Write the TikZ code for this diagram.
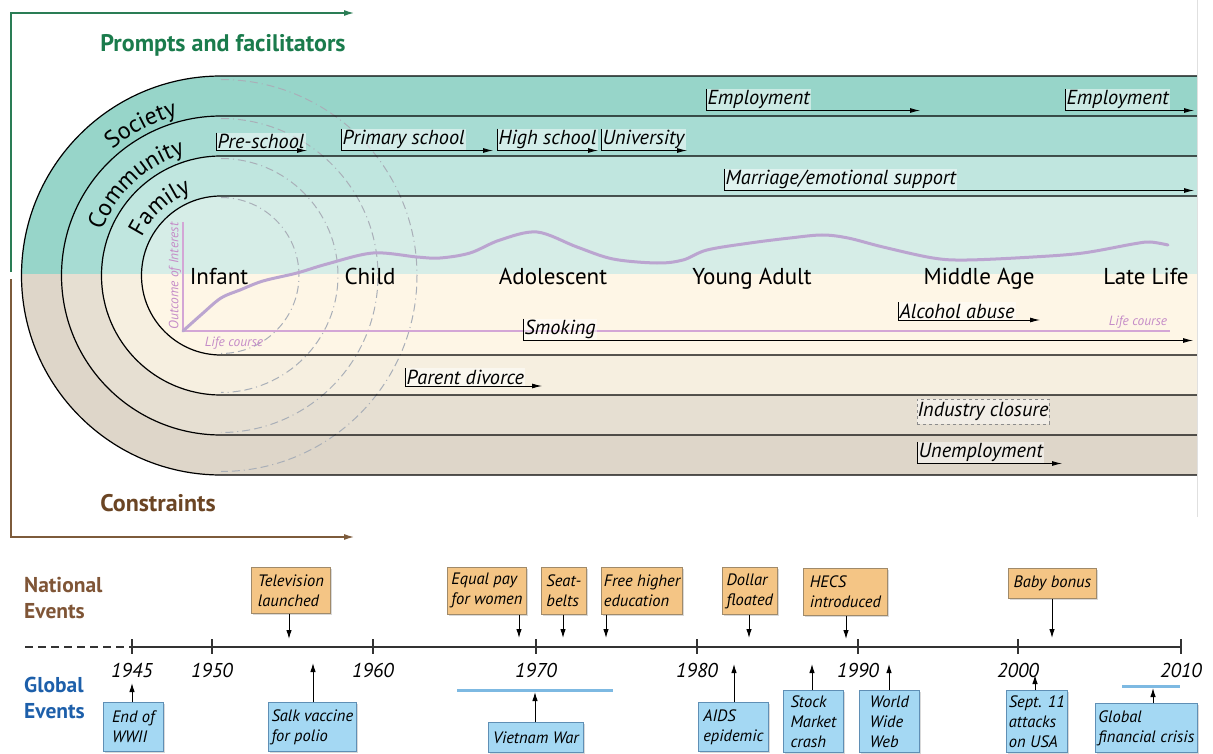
\documentclass[tikz,border=0pt]{standalone}
\usepackage{fontspec}
\setmainfont{PT Sans}
\usetikzlibrary{arrows.meta,decorations.text,shadows}

% band fills
\definecolor{socT}{HTML}{97D5C9}
\definecolor{comT}{HTML}{A7DCD3}
\definecolor{famT}{HTML}{C0E6DF}
\definecolor{innT}{HTML}{D6EDE7}
\definecolor{innB}{HTML}{FEF6E6}
\definecolor{famB}{HTML}{F6EFE0}
\definecolor{comB}{HTML}{E6DFD2}
\definecolor{socB}{HTML}{DED6C9}
% text and axis colours
\definecolor{promptgreen}{HTML}{1A7B4C}
\definecolor{axisgreen}{HTML}{2A7D55}
\definecolor{constbrown}{HTML}{6B4524}
\definecolor{axisbrown}{HTML}{7D5B3B}
\definecolor{natbrown}{HTML}{7F5536}
\definecolor{globblue}{HTML}{1D5FAA}
\definecolor{lcaxis}{HTML}{D3A6D6}
\definecolor{lccurve}{HTML}{BBA5D0}
\definecolor{lctext}{HTML}{C58CC8}
\definecolor{ripple}{HTML}{A9AFB8}
\definecolor{natfill}{HTML}{F4C585}
\definecolor{natedge}{HTML}{A08A6A}
\definecolor{globfill}{HTML}{A4D8F3}
\definecolor{globedge}{HTML}{5F8FB5}
\definecolor{globbar}{HTML}{7DB9E2}

\newcommand\curvefont{\fontsize{24}{28}\selectfont}
% stadium-shaped band outline of half height #1 around the common centre
\newcommand\bandshape[1]{(1197,275.5-#1) -- (221,275.5-#1) arc[start angle=270, end angle=90, radius=#1] -- (1197,275.5+#1)}

\begin{document}
\begin{tikzpicture}[x=1pt,y=-1pt,
  bandline/.style={draw=black, line width=1.2pt},
  lab/.style={font=\fontsize{20.3}{22}\selectfont\itshape, fill=white, fill opacity=0.5, text opacity=1, inner sep=1.4pt, anchor=south west},
  brk/.style={line width=0.9pt, -{Latex[length=10pt,width=5pt]}},
  age/.style={font=\fontsize{23}{26}\selectfont, anchor=base},
  lcsmall/.style={font=\fontsize{13.4}{15}\selectfont\itshape, text=lctext, inner sep=0pt},
  ring/.style={draw=ripple, line width=1pt, dash pattern=on 8pt off 4pt on 1pt off 4pt on 8pt off 4pt},
  evbox/.style={line width=0.8pt, font=\fontsize{16.5}{20}\selectfont\itshape, align=left, anchor=north west, inner xsep=2.5pt, inner ysep=3pt,
                drop shadow={opacity=0.3, shadow xshift=1.6pt, shadow yshift=-1.6pt}},
  nbox/.style={evbox, fill=natfill, draw=natedge},
  gbox/.style={evbox, fill=globfill, draw=globedge},
  tarrow/.style={line width=1pt, -{Latex[length=9pt,width=5.5pt]}},
  year/.style={font=\fontsize{20}{22}\selectfont\itshape},
  sidetitle/.style={font=\fontsize{21.5}{26}\selectfont\bfseries, align=left, anchor=west, inner sep=0pt},
  bigtitle/.style={font=\fontsize{24}{28}\selectfont\bfseries, inner sep=0pt}
]
\clip (0,0) rectangle (1213,754);
\coordinate (ctr) at (221,275.5);

% ---- coloured bands: upper half (facilitators) ----
\begin{scope}
  \clip (0,0) rectangle (1197,274);
  \fill[socT] \bandshape{199.5} -- cycle;
  \fill[comT] \bandshape{159.5} -- cycle;
  \fill[famT] \bandshape{119.5} -- cycle;
  \fill[innT] \bandshape{79.5} -- cycle;
\end{scope}
% ---- lower half (constraints) ----
\begin{scope}
  \clip (0,274) rectangle (1197,754);
  \fill[socB] \bandshape{199.5} -- cycle;
  \fill[comB] \bandshape{159.5} -- cycle;
  \fill[famB] \bandshape{119.5} -- cycle;
  \fill[innB] \bandshape{79.5} -- cycle;
\end{scope}

% ripples spreading from birth
\foreach \r in {78,117,157,196}
  \draw[ring] ([shift={(ctr)}]-90:\r) arc[start angle=-90, end angle=90, radius=\r];

% band outlines
\draw[bandline] \bandshape{199.5};
\draw[bandline] \bandshape{159.5};
\draw[bandline] \bandshape{119.5};
\draw[bandline] \bandshape{79.5};
\draw[black!12, line width=0.8pt] (1197,0) -- (1197,517);

% level names written along the arcs
\path[decorate, decoration={text along path, text align=center, text={|\curvefont|Society}}]
  ([shift={(ctr)}]-160:166) arc[start angle=-160, end angle=-76, radius=166];
\path[decorate, decoration={text along path, text align=center, text={|\curvefont|Community}}]
  ([shift={(ctr)}]-178:127) arc[start angle=-178, end angle=-88, radius=127];
\path[decorate, decoration={text along path, text align=center, text={|\curvefont|Family}}]
  ([shift={(ctr)}]-180:88) arc[start angle=-180, end angle=-84, radius=88];

% side axes
\coordinate (gTop) at (11,13);
\coordinate (gEnd) at (354,13);
\coordinate (gBot) at (11,272);
\coordinate (bTop) at (11,279);
\coordinate (bBot) at (11,537);
\coordinate (bEnd) at (354,537);
\draw[axisgreen, line width=1.2pt, -{Latex[length=10pt,width=6pt]}] (gBot) -- (gTop) -- (gEnd);
\draw[axisbrown, line width=1.2pt, -{Latex[length=10pt,width=6pt]}] (bTop) -- (bBot) -- (bEnd);
\node[bigtitle, text=promptgreen] (prompts) at (223,45) {Prompts and facilitators};
\node[bigtitle, text=constbrown] (constr) at (158,503) {Constraints};

% life-course graph
\coordinate (lcO) at (183,331);
\coordinate (lcY) at (183,222);
\coordinate (lcX) at (1170,331);
\draw[lcaxis, line width=2.6pt] (lcY) -- (lcO) -- (lcX);
\draw[lccurve, line width=3pt, line cap=round] plot[smooth, tension=0.55] coordinates {
  (183,331) (202,314) (221,298) (240,290) (263,281) (297,273) (327,264) (373,253)
  (417,257) (440,258) (470,253) (500,240) (537,232) (577,247) (613,259) (657,263)
  (683,260) (707,250) (750,243) (790,238) (822,235) (848,238) (883,247) (933,258)
  (967,260) (1033,257) (1083,253) (1133,244) (1150,242) (1168,245)};
\node[lcsmall, rotate=90] (outcome) at (175,276) {Outcome of Interest};
\node[lcsmall] (lc1) at (234,343) {Life course};
\node[lcsmall] (lc2) at (1138,322) {Life course};

% life stages
\node[age] (infant) at (219,284) {Infant};
\node[age] (child) at (370,284) {Child};
\node[age] (adol) at (553,284) {Adolescent};
\node[age] (young) at (752,284) {Young Adult};
\node[age] (middle) at (979,284) {Middle Age};
\node[age] (late) at (1146,284) {Late Life};

% transitions within the bands
\node[lab] (emp1) at (706,110.5) {Employment\hspace{3pt}};
\coordinate (emp1e) at (920,110.5);
\draw[brk] (emp1.north west) -- (emp1.south west) -- (emp1e);
\node[lab] (emp2) at (1065,110.5) {Employment\hspace{2pt}};
\coordinate (emp2e) at (1194,110.5);
\draw[brk] (emp2.north west) -- (emp2.south west) -- (emp2e);

\node[lab] (pre) at (216,150.5) {Pre-school};
\coordinate (pree) at (307,150.5);
\draw[brk] (pre.north west) -- (pre.south west) -- (pree);
\node[lab] (prim) at (341,150.5) {Primary school};
\coordinate (prime) at (493,150.5);
\draw[brk] (prim.north west) -- (prim.south west) -- (prime);
\node[lab] (high) at (497,150.5) {High school};
\coordinate (highe) at (598,150.5);
\draw[brk] (high.north west) -- (high.south west) -- (highe);
\node[lab] (uni) at (601,150.5) {University};
\coordinate (unie) at (687,150.5);
\draw[brk] (uni.north west) -- (uni.south west) -- (unie);

\node[lab] (marr) at (724,190.5) {Marriage/emotional support};
\coordinate (marre) at (1194,190.5);
\draw[brk] (marr.north west) -- (marr.south west) -- (marre);

\node[lab] (alc) at (898,320) {Alcohol abuse\hspace{3pt}};
\coordinate (alce) at (1040,320);
\draw[brk] (alc.north west) -- (alc.south west) -- (alce);
\node[lab] (smok) at (523,340.5) {Smoking\hspace{4pt}};
\coordinate (smoke) at (1193,340.5);
\draw[brk] (smok.north west) -- (smok.south west) -- (smoke);

\node[lab] (div) at (405,386) {Parent divorce\hspace{2pt}};
\coordinate (dive) at (542,386);
\draw[brk] (div.north west) -- (div.south west) -- (dive);

\node[lab, anchor=center, fill=white, fill opacity=0.45, draw=black!45, draw opacity=1, dashed, line width=0.7pt, inner sep=0.5pt, minimum width=132pt, minimum height=25pt] (ind) at (983,411.5) {Industry closure};

\node[lab] (unemp) at (917,463.5) {Unemployment\hspace{4pt}};
\coordinate (unempe) at (1062,463.5);
\draw[brk] (unemp.north west) -- (unemp.south west) -- (unempe);

% ---- timeline ----
\node[sidetitle, text=natbrown] (natl) at (24,598.5) {National\\Events};
\node[sidetitle, text=globblue] (glob) at (24,698) {Global\\Events};

\coordinate (tlStart) at (25,647);
\coordinate (t1945) at (132,647);
\coordinate (t2010) at (1181,647);
\draw[line width=1.2pt, black!80, dash pattern=on 8pt off 5pt] (tlStart) -- (t1945);
\draw[line width=1.2pt, black!80] (t1945) -- (t2010);
\foreach \x/\yr in {132/1945, 212/1950, 373/1960, 536/1970, 697/1980, 858/1990, 1018/2000, 1181/2010} {
  \draw[line width=1.1pt, black!80] (\x,639) -- (\x,654);
  \node[year] (y\yr) at (\x,670) {\yr};
}

% national events
\node[nbox, minimum width=79pt, minimum height=46pt] (tv) at (251,567) {Television\\launched};
\coordinate (tvp) at (289,639);
\draw[tarrow] (tv.south -| tvp) -- (tvp);
\node[nbox, minimum width=79pt, minimum height=47pt] (equal) at (447,567) {Equal pay\\for women};
\coordinate (equalp) at (519,638);
\draw[tarrow] (equal.south -| equalp) -- (equalp);
\node[nbox, minimum width=45pt, minimum height=47pt] (seat) at (541,567) {Seat-\\belts};
\coordinate (seatp) at (563,638);
\draw[tarrow] (seat.south -| seatp) -- (seatp);
\node[nbox, minimum width=79pt, minimum height=47pt] (free) at (601,567) {Free higher\\education};
\coordinate (freep) at (606,638);
\draw[tarrow] (free.south -| freep) -- (freep);
\node[nbox, minimum width=55pt, minimum height=47pt] (dollar) at (722,567) {Dollar\\floated};
\coordinate (dollarp) at (749,638);
\draw[tarrow] (dollar.south -| dollarp) -- (dollarp);
\node[nbox, minimum width=84pt, minimum height=47pt] (hecs) at (803,568) {HECS\\introduced};
\coordinate (hecsp) at (846,639);
\draw[tarrow] (hecs.south -| hecsp) -- (hecsp);
\node[nbox, minimum width=88pt, minimum height=30pt] (baby) at (1008,568) {Baby bonus};
\coordinate (babyp) at (1052,638);
\draw[tarrow] (baby.south -| babyp) -- (babyp);

% global events
\node[gbox, minimum width=60pt, minimum height=49pt] (wwii) at (103,702) {End of\\WWII};
\coordinate (wwiip) at (132,683);
\draw[tarrow] (wwii.north -| wwiip) -- (wwiip);
\node[gbox, minimum width=88pt, minimum height=49pt] (salk) at (268,702) {Salk vaccine\\for polio};
\coordinate (salkp) at (313,663);
\draw[tarrow] (salk.north -| salkp) -- (salkp);
\node[gbox, minimum width=95pt, minimum height=30pt] (viet) at (488,722) {Vietnam War};
\coordinate (vietp) at (535,692);
\coordinate (vietA) at (457,690);
\coordinate (vietB) at (613,690);
\draw[globbar, line width=3pt] (vietA) -- (vietB);
\draw[tarrow] (viet.north -| vietp) -- (vietp);
\node[gbox, minimum width=70pt, minimum height=49pt] (aids) at (698,702) {AIDS\\epidemic};
\coordinate (aidsp) at (734,664);
\draw[tarrow] (aids.north -| aidsp) -- (aidsp);
\node[gbox, minimum width=60pt, minimum height=62pt, inner sep=2pt] (stock) at (783,690) {Stock\\Market\\crash};
\coordinate (stockp) at (812,664);
\draw[tarrow] (stock.north -| stockp) -- (stockp);
\node[gbox, minimum width=60pt, minimum height=62pt, inner sep=2pt] (www) at (859,690) {World\\Wide\\Web};
\coordinate (wwwp) at (889,664);
\draw[tarrow] (www.north -| wwwp) -- (wwwp);
\node[gbox, minimum width=61pt, minimum height=62pt, inner sep=2pt] (sept) at (1006,690) {Sept. 11\\attacks\\on USA};
\coordinate (septp) at (1035,675);
\draw[tarrow] (sept.north -| septp) -- (septp);
\node[gbox, minimum width=102pt, minimum height=49pt] (gfc) at (1095,703) {Global\\financial crisis};
\coordinate (gfcp) at (1153,688);
\coordinate (gfcA) at (1122,686);
\coordinate (gfcB) at (1180,686);
\draw[globbar, line width=3pt] (gfcA) -- (gfcB);
\draw[tarrow] (gfc.north -| gfcp) -- (gfcp);
\end{tikzpicture}
\end{document}
